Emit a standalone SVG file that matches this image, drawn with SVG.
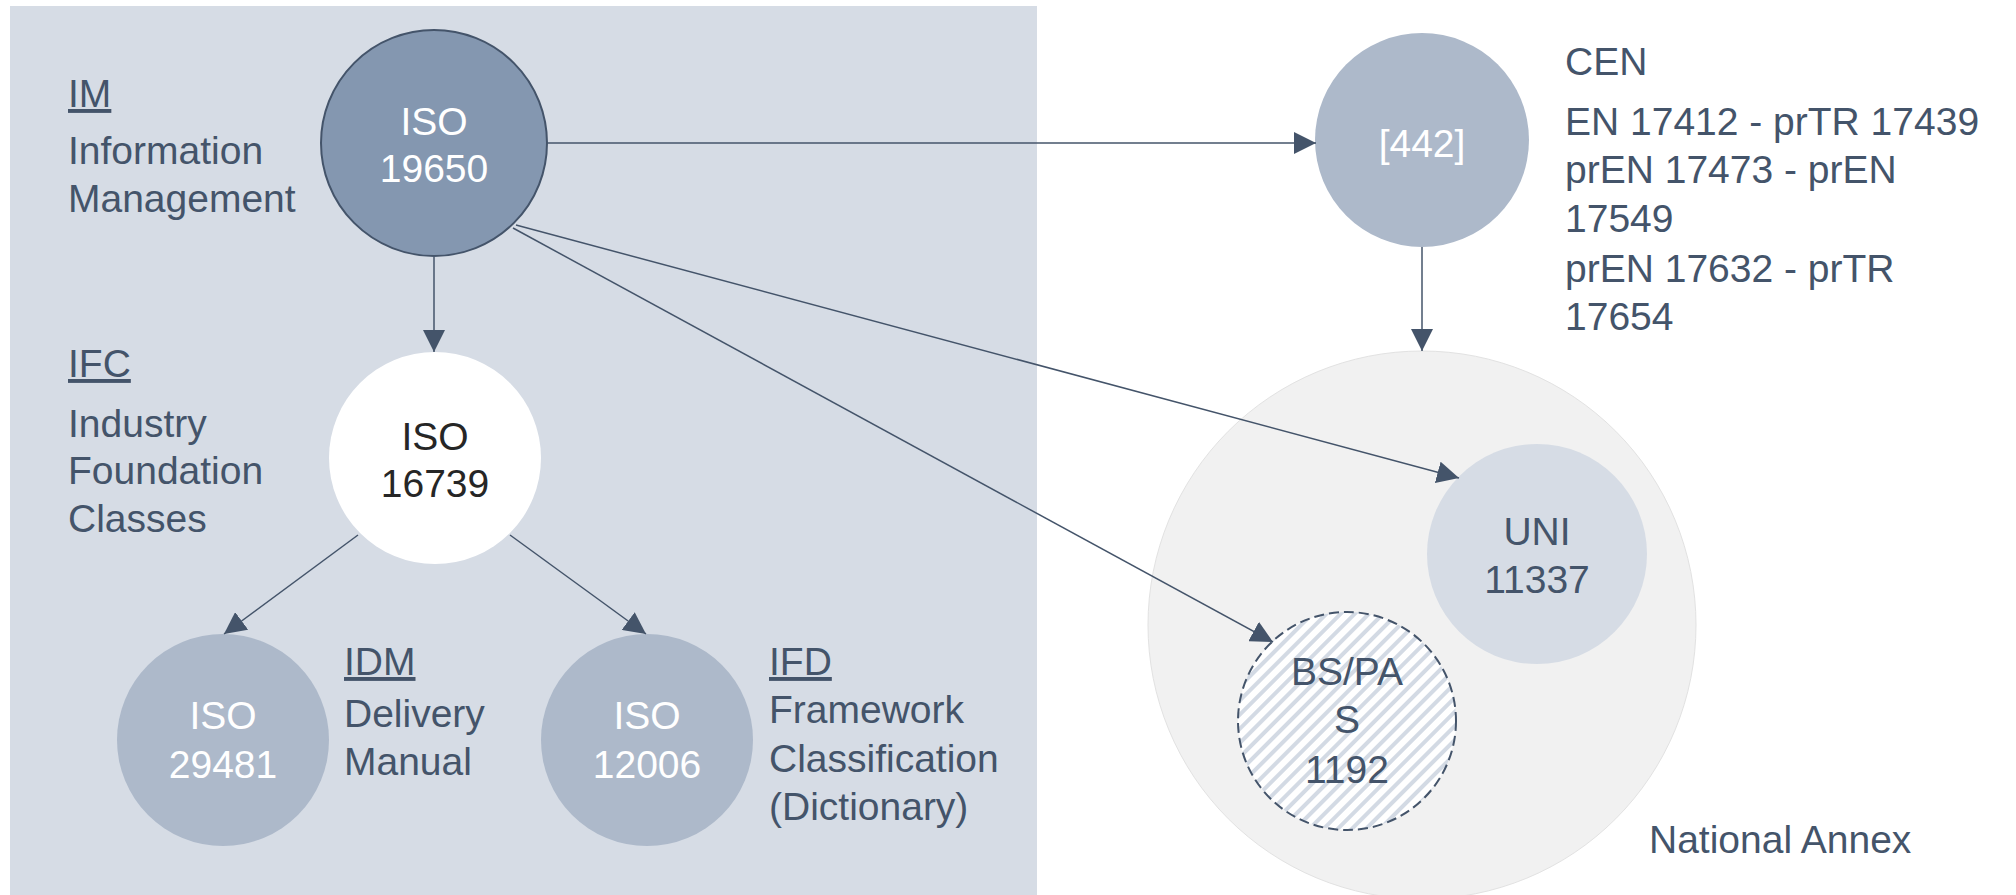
<svg xmlns="http://www.w3.org/2000/svg" width="2016" height="895" viewBox="0 0 2016 895">
<style>
  text { font-family: "Liberation Sans", Arial, sans-serif; font-size: 39px; }
  .lbl { fill: #44546a; }
  .u { text-decoration: underline; }
  .wt { fill: #ffffff; text-anchor: middle; }
  .dk { fill: #262626; text-anchor: middle; }
  .sl { fill: #44546a; text-anchor: middle; }
  .conn { stroke: #44546a; stroke-width: 1.5; fill: none; marker-end: url(#arr); }
</style>
<defs>
  <marker id="arr" markerUnits="userSpaceOnUse" markerWidth="22" markerHeight="22" refX="22" refY="11" orient="auto">
    <path d="M0,0 L22,11 L0,22 Z" fill="#44546a"/>
  </marker>
  <pattern id="hatch" patternUnits="userSpaceOnUse" width="10" height="10" patternTransform="rotate(45)">
    <rect width="10" height="10" fill="#ffffff"/>
    <rect width="4" height="10" fill="#d3dae4"/>
  </pattern>
</defs>
<rect width="2016" height="895" fill="#ffffff"/>
<rect id="panel" x="10" y="6" width="1027" height="889" fill="#d6dce5"/>

<g id="national-annex">
  <circle cx="1422" cy="625" r="274" fill="#f1f1f1" stroke="#e2e2e2" stroke-width="1"/>
  <text class="lbl" x="1649" y="853">National Annex</text>
</g>

<g id="iso19650">
  <circle cx="434" cy="143" r="113" fill="#8497b0" stroke="#44546a" stroke-width="2"/>
  <text class="wt" x="434" y="135">ISO</text>
  <text class="wt" x="434" y="182">19650</text>
  <text class="lbl u" x="68" y="107">IM</text>
  <text class="lbl" x="68" y="164">Information</text>
  <text class="lbl" x="68" y="212">Management</text>
</g>

<g id="iso16739">
  <circle cx="435" cy="458" r="106" fill="#ffffff"/>
  <text class="dk" x="435" y="450">ISO</text>
  <text class="dk" x="435" y="497">16739</text>
  <text class="lbl u" x="68" y="377">IFC</text>
  <text class="lbl" x="68" y="437">Industry</text>
  <text class="lbl" x="68" y="484">Foundation</text>
  <text class="lbl" x="68" y="532">Classes</text>
</g>

<g id="iso29481">
  <circle cx="223" cy="740" r="106" fill="#adb9ca"/>
  <text class="wt" x="223" y="729">ISO</text>
  <text class="wt" x="223" y="778">29481</text>
  <text class="lbl u" x="344" y="675">IDM</text>
  <text class="lbl" x="344" y="727">Delivery</text>
  <text class="lbl" x="344" y="775">Manual</text>
</g>

<g id="iso12006">
  <circle cx="647" cy="740" r="106" fill="#adb9ca"/>
  <text class="wt" x="647" y="729">ISO</text>
  <text class="wt" x="647" y="778">12006</text>
  <text class="lbl u" x="769" y="675">IFD</text>
  <text class="lbl" x="769" y="723">Framework</text>
  <text class="lbl" x="769" y="772">Classification</text>
  <text class="lbl" x="769" y="820">(Dictionary)</text>
</g>

<g id="cen442">
  <circle cx="1422" cy="140" r="107" fill="#adb9ca"/>
  <text class="wt" x="1422" y="157">[442]</text>
  <text class="lbl" x="1565" y="75">CEN</text>
  <text class="lbl" x="1565" y="135">EN 17412 - prTR 17439</text>
  <text class="lbl" x="1565" y="183">prEN 17473 - prEN</text>
  <text class="lbl" x="1565" y="232">17549</text>
  <text class="lbl" x="1565" y="282">prEN 17632 - prTR</text>
  <text class="lbl" x="1565" y="330">17654</text>
</g>

<g id="uni11337">
  <circle cx="1537" cy="554" r="110" fill="#d6dce5"/>
  <text class="sl" x="1537" y="545">UNI</text>
  <text class="sl" x="1537" y="593">11337</text>
</g>

<g id="bspas1192">
  <circle cx="1347" cy="721" r="109" fill="url(#hatch)" stroke="#44546a" stroke-width="2" stroke-dasharray="10 5"/>
  <text class="sl" x="1347" y="685">BS/PA</text>
  <text class="sl" x="1347" y="733">S</text>
  <text class="sl" x="1347" y="783">1192</text>
</g>

<g id="connectors">
  <line class="conn" x1="434" y1="257" x2="434" y2="352"/>
  <line class="conn" x1="547" y1="143" x2="1316" y2="143"/>
  <line class="conn" x1="516" y1="225" x2="1459" y2="478"/>
  <line class="conn" x1="513" y1="228" x2="1273" y2="642"/>
  <line class="conn" x1="358" y1="535" x2="224" y2="634"/>
  <line class="conn" x1="510" y1="535" x2="646" y2="634"/>
  <line class="conn" x1="1422" y1="247" x2="1422" y2="351"/>
</g>
</svg>
